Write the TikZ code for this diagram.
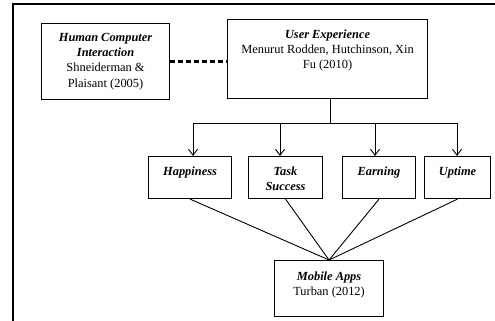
\documentclass[tikz,border=0pt]{standalone}
\usepackage{fontspec}
\setmainfont{Liberation Serif}
\usetikzlibrary{arrows.meta}
\begin{document}
\begin{tikzpicture}[x=1pt,y=-1pt,
  box/.style={draw=black,line width=1.1pt,rectangle,inner sep=0pt,anchor=north west},
  conn/.style={line width=0.9pt},
  arr/.style={conn,-{Straight Barb[length=6pt,width=9pt,line width=0.9pt]}},
  ttl/.style={font=\bfseries\itshape}]
\useasboundingbox (0,0) rectangle (495,321);
\draw[line width=1.6pt] (495,4) -- (13,4) -- (13,321);
% boxes
\newcommand{\boxtext}[4]{\parbox[c][#2pt][#3]{#1pt}{\centering\fontsize{12.4}{15.2}\selectfont #4}}
\node[box] (hci) at (41,23) {\boxtext{128}{76}{c}{{\bfseries\itshape Human Computer\\ Interaction}\\ Shneiderman \&\\ Plaisant (2005)}};
\node[box] (ux) at (227,19) {\boxtext{200}{79}{t}{\vspace{10pt}{\bfseries\itshape User Experience}\\ Menurut Rodden, Hutchinson, Xin\\ Fu (2010)}};
\node[box] (hap) at (148,156) {\boxtext{83}{42}{t}{\vspace{10pt}{\bfseries\itshape Happiness}}};
\node[box] (task) at (248,156) {\boxtext{74}{42}{t}{\vspace{10pt}{\bfseries\itshape Task\\ Success}}};
\node[box] (earn) at (342,156) {\boxtext{73}{42}{t}{\vspace{10pt}{\bfseries\itshape Earning}}};
\node[box] (up) at (424,156) {\boxtext{66}{42}{t}{\vspace{10pt}{\bfseries\itshape Uptime}}};
\node[box] (mob) at (274,260) {\boxtext{109}{56}{t}{\vspace{11pt}{\bfseries\itshape Mobile Apps}\\ Turban (2012)}};
% dotted link
\draw[line width=3pt,dash pattern=on 5pt off 3pt] (hci.east) -- (ux.west |- hci.east);
% bus
\coordinate (bus) at (330,123);
\coordinate (b1) at (193,123);
\coordinate (b2) at (280,123);
\coordinate (b3) at (375,123);
\coordinate (b4) at (457,123);
\draw[conn] (ux.south -| bus) -- (bus);
\draw[conn] (b1) -- (b4);
\draw[arr] (b1) -- (b1 |- hap.north);
\draw[arr] (b2) -- (b2 |- task.north);
\draw[arr] (b3) -- (b3 |- earn.north);
\draw[arr] (b4) -- (b4 |- up.north);
% to mobile
\draw[conn] (hap.south) -- (mob.north);
\draw[conn] (task.south) -- (mob.north);
\draw[conn] (earn.south) -- (mob.north);
\draw[conn] (up.south) -- (mob.north);
\end{tikzpicture}
\end{document}
